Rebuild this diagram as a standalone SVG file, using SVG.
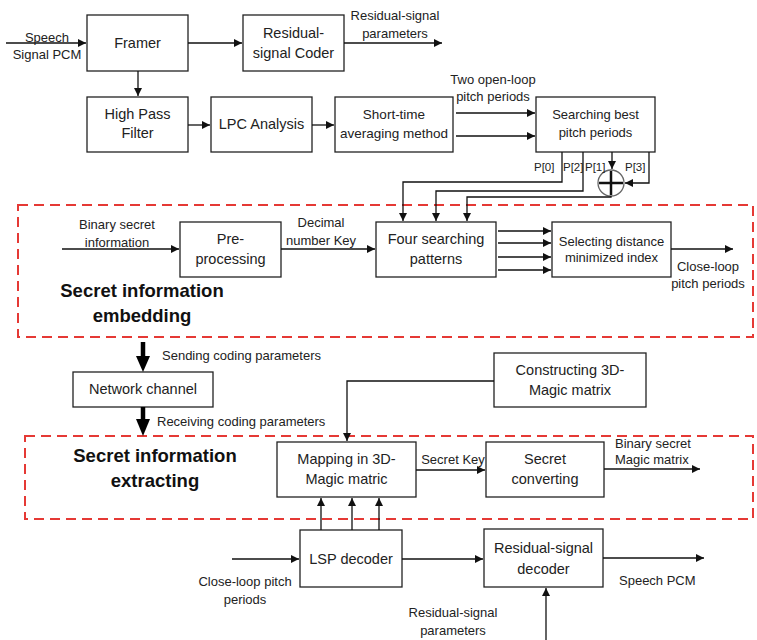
<svg xmlns="http://www.w3.org/2000/svg" width="757" height="640" viewBox="0 0 757 640">
<defs>
<style>
.box{fill:#fff;stroke:#222;stroke-width:1.3}
.ln{fill:none;stroke:#111;stroke-width:1.3}
.red{fill:none;stroke:#e53935;stroke-width:2;stroke-dasharray:10 6}
text{font-family:"Liberation Sans",Arial,sans-serif;fill:#222}
.t{font-size:14.5px;text-anchor:middle}
.s{font-size:13px;text-anchor:middle}
.sl{font-size:13px}
.p{font-size:11.5px}
.b{font-size:18.5px;font-weight:bold;text-anchor:middle;fill:#111}
</style>
<marker id="ah" viewBox="0 0 10 10" refX="10" refY="5" markerWidth="9" markerHeight="8" markerUnits="userSpaceOnUse" orient="auto"><path d="M0,0 L10,5 L0,10 z" fill="#111"/></marker>
</defs>
<rect width="757" height="640" fill="#fff"/>

<g id="regions">
<rect class="red" x="18" y="205" width="735" height="132"/>
<rect class="red" x="25" y="436" width="728" height="83"/>
<text class="b" x="142" y="297">Secret information</text>
<text class="b" x="142" y="322">embedding</text>
<text class="b" x="155" y="462">Secret information</text>
<text class="b" x="155" y="487">extracting</text>
</g>

<g id="framer"><rect class="box" x="87" y="15" width="101" height="56"/><text class="t" x="137.5" y="48">Framer</text></g>
<g id="residual-coder"><rect class="box" x="243" y="15" width="101" height="56"/><text class="t" x="293.5" y="38">Residual-</text><text class="t" x="293.5" y="58">signal Coder</text></g>
<g id="hpf"><rect class="box" x="87" y="97" width="101" height="55"/><text class="t" x="137.5" y="119">High Pass</text><text class="t" x="137.5" y="138">Filter</text></g>
<g id="lpc"><rect class="box" x="211" y="97" width="101" height="55"/><text class="t" x="261.5" y="129">LPC Analysis</text></g>
<g id="short-time"><rect class="box" x="335" y="97" width="118" height="55"/><text class="s" x="394" y="119" style="font-size:13.5px">Short-time</text><text class="s" x="394" y="138" style="font-size:13.5px">averaging method</text></g>
<g id="searching"><rect class="box" x="536" y="97" width="119" height="55"/><text class="s" x="595.5" y="118.5">Searching best</text><text class="s" x="595.5" y="136.5">pitch periods</text></g>
<g id="sum"><circle cx="611" cy="183" r="13" fill="#fff" stroke="#666" stroke-width="1.3"/><path d="M599,183 H623 M611,171 V195" stroke="#111" stroke-width="2.5"/></g>
<g id="preprocessing"><rect class="box" x="180" y="222" width="101" height="55"/><text class="t" x="230.5" y="244">Pre-</text><text class="t" x="230.5" y="264">processing</text></g>
<g id="four-searching"><rect class="box" x="376" y="222" width="120" height="55"/><text class="t" x="436" y="244">Four searching</text><text class="t" x="436" y="264">patterns</text></g>
<g id="selecting"><rect class="box" x="552" y="222" width="119" height="55"/><text class="s" x="611.5" y="245.5">Selecting distance</text><text class="s" x="611.5" y="261.5">minimized index</text></g>
<g id="network"><rect class="box" x="73" y="372" width="140" height="35"/><text class="t" x="143" y="394">Network channel</text></g>
<g id="constructing"><rect class="box" x="494" y="353" width="152" height="54"/><text class="t" x="570" y="375">Constructing 3D-</text><text class="t" x="570" y="395">Magic matrix</text></g>
<g id="mapping"><rect class="box" x="277" y="442" width="139" height="55"/><text class="t" x="346.5" y="464">Mapping in 3D-</text><text class="t" x="346.5" y="484">Magic matric</text></g>
<g id="secret-converting"><rect class="box" x="486" y="442" width="118" height="55"/><text class="t" x="545" y="464">Secret</text><text class="t" x="545" y="484">converting</text></g>
<g id="lsp"><rect class="box" x="300" y="530" width="102" height="57"/><text class="t" x="351" y="564">LSP decoder</text></g>
<g id="residual-decoder"><rect class="box" x="484" y="529" width="119" height="58"/><text class="t" x="543.5" y="553">Residual-signal</text><text class="t" x="543.5" y="574">decoder</text></g>

<g id="connectors">
<path class="ln" d="M6,43 H86" marker-end="url(#ah)"/>
<path class="ln" d="M188,43 H242" marker-end="url(#ah)"/>
<path class="ln" d="M344,43 H442" marker-end="url(#ah)"/>
<path class="ln" d="M138,71 V96" marker-end="url(#ah)"/>
<path class="ln" d="M188,125 H210" marker-end="url(#ah)"/>
<path class="ln" d="M312,125 H334" marker-end="url(#ah)"/>
<path class="ln" d="M456,113 H535" marker-end="url(#ah)"/>
<path class="ln" d="M456,136 H535" marker-end="url(#ah)"/>
<path class="ln" d="M562,152 V182 H403 V221" marker-end="url(#ah)"/>
<path class="ln" d="M583,152 V191 H436 V221" marker-end="url(#ah)"/>
<path class="ln" d="M612,152 V169" marker-end="url(#ah)"/>
<path class="ln" d="M649,152 V183 H625" marker-end="url(#ah)"/>
<path class="ln" d="M611,196 V197 H467 V221" marker-end="url(#ah)"/>
<path class="ln" d="M62,249 H179" marker-end="url(#ah)"/>
<path class="ln" d="M281,249 H375" marker-end="url(#ah)"/>
<path class="ln" d="M498,231 H551" marker-end="url(#ah)"/>
<path class="ln" d="M498,243 H551" marker-end="url(#ah)"/>
<path class="ln" d="M498,257 H551" marker-end="url(#ah)"/>
<path class="ln" d="M498,270 H551" marker-end="url(#ah)"/>
<path class="ln" d="M671,249 H733" marker-end="url(#ah)"/>
<path d="M143,342 V358" stroke="#000" stroke-width="4.5"/>
<path d="M136,356 H150 L143,372 z" fill="#000"/>
<path d="M143,407 V420" stroke="#000" stroke-width="4.5"/>
<path d="M136,419 H150 L143,436 z" fill="#000"/>
<path class="ln" d="M494,381 H347 V441" marker-end="url(#ah)"/>
<path class="ln" d="M416,470 H485" marker-end="url(#ah)"/>
<path class="ln" d="M604,469 H700" marker-end="url(#ah)"/>
<path class="ln" d="M321,530 V498" marker-end="url(#ah)"/>
<path class="ln" d="M352,530 V498" marker-end="url(#ah)"/>
<path class="ln" d="M379,530 V498" marker-end="url(#ah)"/>
<path class="ln" d="M232,559 H299" marker-end="url(#ah)"/>
<path class="ln" d="M402,559 H483" marker-end="url(#ah)"/>
<path class="ln" d="M603,558 H704" marker-end="url(#ah)"/>
<path class="ln" d="M546,640 V588" marker-end="url(#ah)"/>
</g>

<g id="labels">
<text class="s" x="47" y="41.5">Speech</text>
<text class="s" x="47" y="58.5">Signal PCM</text>
<text class="s" x="395" y="19.5">Residual-signal</text>
<text class="s" x="395" y="37.5">parameters</text>
<text class="s" x="493" y="83.5">Two open-loop</text>
<text class="s" x="493" y="100.5">pitch periods</text>
<text class="p" x="534" y="171">P[0]</text>
<text class="p" x="563" y="171">P[2]</text>
<text class="p" x="585" y="171">P[1]</text>
<text class="p" x="625" y="171">P[3]</text>
<text class="s" x="117" y="228.5">Binary secret</text>
<text class="s" x="117" y="246.5">information</text>
<text class="s" x="321" y="226.5">Decimal</text>
<text class="s" x="321" y="244.5">number Key</text>
<text class="s" x="708" y="270.5">Close-loop</text>
<text class="s" x="708" y="287.5">pitch periods</text>
<text class="sl" x="162" y="359.5">Sending coding parameters</text>
<text class="sl" x="157" y="425.5">Receiving coding parameters</text>
<text class="s" x="453" y="463.5">Secret Key</text>
<text class="sl" x="615" y="447.5">Binary secret</text>
<text class="sl" x="615" y="463.5">Magic matrix</text>
<text class="s" x="245" y="585.5">Close-loop pitch</text>
<text class="s" x="245" y="603.5">periods</text>
<text class="sl" x="619" y="584.5">Speech PCM</text>
<text class="s" x="453" y="616.5">Residual-signal</text>
<text class="s" x="453" y="634.5">parameters</text>
</g>
</svg>
